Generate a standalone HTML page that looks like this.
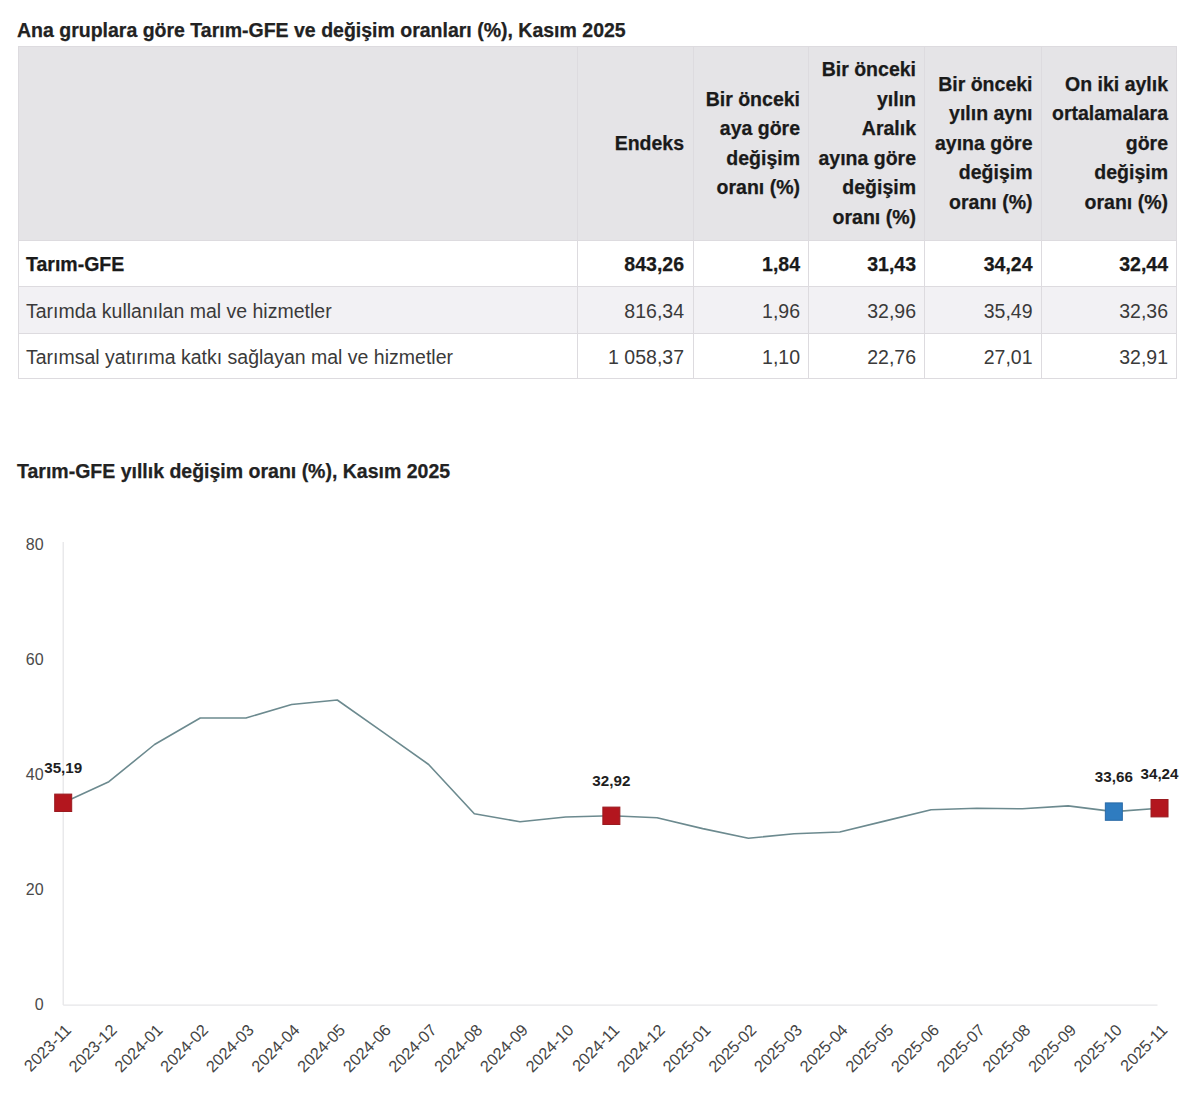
<!DOCTYPE html>
<html lang="tr"><head><meta charset="utf-8"><title>Tarım-GFE</title>
<style>
*{margin:0;padding:0;box-sizing:border-box}
html,body{width:1200px;height:1112px;background:#fff;overflow:hidden}
body{position:relative;font-family:"Liberation Sans",sans-serif;color:#222}
.t{position:absolute;white-space:nowrap;line-height:24px}
.b{font-weight:bold;-webkit-text-stroke:0.25px currentColor}
.r{text-align:right}
.box{position:absolute}
</style></head>
<body>
<div class="t b" style="top:18.04px;font-size:19.5px;color:#222;left:17.00px;">Ana gruplara göre Tarım-GFE ve değişim oranları (%), Kasım 2025</div>
<div class="box" style="left:18px;top:46px;width:1158.5px;height:194.5px;background:#e5e4e7;"></div>
<div class="box" style="left:18px;top:240.5px;width:1158.5px;height:46.0px;background:#fff;"></div>
<div class="box" style="left:18px;top:286.5px;width:1158.5px;height:46.5px;background:#f2f1f4;"></div>
<div class="box" style="left:18px;top:333px;width:1158.5px;height:45.5px;background:#fff;"></div>
<div class="box" style="left:18px;top:45.5px;width:1158.5px;height:1px;background:#dddbdf;"></div>
<div class="box" style="left:18px;top:240.0px;width:1158.5px;height:1px;background:#dddbdf;"></div>
<div class="box" style="left:18px;top:286.0px;width:1158.5px;height:1px;background:#dddbdf;"></div>
<div class="box" style="left:18px;top:332.5px;width:1158.5px;height:1px;background:#dddbdf;"></div>
<div class="box" style="left:18px;top:378.0px;width:1158.5px;height:1px;background:#dddbdf;"></div>
<div class="box" style="left:17.5px;top:46px;width:1px;height:332.5px;background:#dddbdf;"></div>
<div class="box" style="left:576.5px;top:46px;width:1px;height:332.5px;background:#dddbdf;"></div>
<div class="box" style="left:692.5px;top:46px;width:1px;height:332.5px;background:#dddbdf;"></div>
<div class="box" style="left:808.0px;top:46px;width:1px;height:332.5px;background:#dddbdf;"></div>
<div class="box" style="left:924.0px;top:46px;width:1px;height:332.5px;background:#dddbdf;"></div>
<div class="box" style="left:1041.0px;top:46px;width:1px;height:332.5px;background:#dddbdf;"></div>
<div class="box" style="left:1176.0px;top:46px;width:1px;height:332.5px;background:#dddbdf;"></div>
<div class="t b" style="top:130.79px;font-size:19.5px;color:#1a1a1a;right:516.00px;">Endeks</div>
<div class="t b" style="top:86.54px;font-size:19.5px;color:#1a1a1a;right:400.00px;">Bir önceki</div>
<div class="t b" style="top:116.04px;font-size:19.5px;color:#1a1a1a;right:400.00px;">aya göre</div>
<div class="t b" style="top:145.54px;font-size:19.5px;color:#1a1a1a;right:400.00px;">değişim</div>
<div class="t b" style="top:175.04px;font-size:19.5px;color:#1a1a1a;right:400.00px;">oranı (%)</div>
<div class="t b" style="top:57.04px;font-size:19.5px;color:#1a1a1a;right:284.00px;">Bir önceki</div>
<div class="t b" style="top:86.54px;font-size:19.5px;color:#1a1a1a;right:284.00px;">yılın</div>
<div class="t b" style="top:116.04px;font-size:19.5px;color:#1a1a1a;right:284.00px;">Aralık</div>
<div class="t b" style="top:145.54px;font-size:19.5px;color:#1a1a1a;right:284.00px;">ayına göre</div>
<div class="t b" style="top:175.04px;font-size:19.5px;color:#1a1a1a;right:284.00px;">değişim</div>
<div class="t b" style="top:204.54px;font-size:19.5px;color:#1a1a1a;right:284.00px;">oranı (%)</div>
<div class="t b" style="top:71.79px;font-size:19.5px;color:#1a1a1a;right:167.50px;">Bir önceki</div>
<div class="t b" style="top:101.29px;font-size:19.5px;color:#1a1a1a;right:167.50px;">yılın aynı</div>
<div class="t b" style="top:130.79px;font-size:19.5px;color:#1a1a1a;right:167.50px;">ayına göre</div>
<div class="t b" style="top:160.29px;font-size:19.5px;color:#1a1a1a;right:167.50px;">değişim</div>
<div class="t b" style="top:189.79px;font-size:19.5px;color:#1a1a1a;right:167.50px;">oranı (%)</div>
<div class="t b" style="top:71.79px;font-size:19.5px;color:#1a1a1a;right:32.00px;">On iki aylık</div>
<div class="t b" style="top:101.29px;font-size:19.5px;color:#1a1a1a;right:32.00px;">ortalamalara</div>
<div class="t b" style="top:130.79px;font-size:19.5px;color:#1a1a1a;right:32.00px;">göre</div>
<div class="t b" style="top:160.29px;font-size:19.5px;color:#1a1a1a;right:32.00px;">değişim</div>
<div class="t b" style="top:189.79px;font-size:19.5px;color:#1a1a1a;right:32.00px;">oranı (%)</div>
<div class="t b" style="top:252.24px;font-size:19.5px;color:#1a1a1a;left:26.00px;">Tarım-GFE</div>
<div class="t b" style="top:252.24px;font-size:19.5px;color:#1a1a1a;right:516.00px;">843,26</div>
<div class="t b" style="top:252.24px;font-size:19.5px;color:#1a1a1a;right:400.00px;">1,84</div>
<div class="t b" style="top:252.24px;font-size:19.5px;color:#1a1a1a;right:284.00px;">31,43</div>
<div class="t b" style="top:252.24px;font-size:19.5px;color:#1a1a1a;right:167.50px;">34,24</div>
<div class="t b" style="top:252.24px;font-size:19.5px;color:#1a1a1a;right:32.00px;">32,44</div>
<div class="t" style="top:298.54px;font-size:19.5px;color:#3a3a3a;left:26.00px;">Tarımda kullanılan mal ve hizmetler</div>
<div class="t" style="top:298.54px;font-size:19.5px;color:#3a3a3a;right:516.00px;">816,34</div>
<div class="t" style="top:298.54px;font-size:19.5px;color:#3a3a3a;right:400.00px;">1,96</div>
<div class="t" style="top:298.54px;font-size:19.5px;color:#3a3a3a;right:284.00px;">32,96</div>
<div class="t" style="top:298.54px;font-size:19.5px;color:#3a3a3a;right:167.50px;">35,49</div>
<div class="t" style="top:298.54px;font-size:19.5px;color:#3a3a3a;right:32.00px;">32,36</div>
<div class="t" style="top:344.54px;font-size:19.5px;color:#3a3a3a;left:26.00px;">Tarımsal yatırıma katkı sağlayan mal ve hizmetler</div>
<div class="t" style="top:344.54px;font-size:19.5px;color:#3a3a3a;right:516.00px;">1 058,37</div>
<div class="t" style="top:344.54px;font-size:19.5px;color:#3a3a3a;right:400.00px;">1,10</div>
<div class="t" style="top:344.54px;font-size:19.5px;color:#3a3a3a;right:284.00px;">22,76</div>
<div class="t" style="top:344.54px;font-size:19.5px;color:#3a3a3a;right:167.50px;">27,01</div>
<div class="t" style="top:344.54px;font-size:19.5px;color:#3a3a3a;right:32.00px;">32,91</div>
<div class="t b" style="top:459.04px;font-size:19.5px;color:#222;left:17.00px;">Tarım-GFE yıllık değişim oranı (%), Kasım 2025</div>
<svg width="1200" height="1112" style="position:absolute;left:0;top:0">
<line x1="63.2" y1="542" x2="63.2" y2="1005.1" stroke="#e6e6e8" stroke-width="1.3"/>
<line x1="63.2" y1="1005.1" x2="1157.5" y2="1005.1" stroke="#e6e6e8" stroke-width="1.3"/>
<text x="43.6" y="1009.70" text-anchor="end" font-family="Liberation Sans" font-size="16" fill="#4a4a4a">0</text>
<text x="43.6" y="894.70" text-anchor="end" font-family="Liberation Sans" font-size="16" fill="#4a4a4a">20</text>
<text x="43.6" y="779.70" text-anchor="end" font-family="Liberation Sans" font-size="16" fill="#4a4a4a">40</text>
<text x="43.6" y="664.70" text-anchor="end" font-family="Liberation Sans" font-size="16" fill="#4a4a4a">60</text>
<text x="43.6" y="549.70" text-anchor="end" font-family="Liberation Sans" font-size="16" fill="#4a4a4a">80</text>
<polyline points="63.20,802.80 108.88,781.70 154.56,744.50 200.24,718.00 245.92,718.00 291.60,704.50 337.28,700.00 382.96,732.10 428.64,764.50 474.32,813.80 520.00,821.70 565.68,817.00 611.36,815.80 657.04,817.80 702.72,828.60 748.40,838.20 794.08,833.80 839.76,832.00 885.44,820.90 931.12,809.80 976.80,808.30 1022.48,808.80 1068.16,805.90 1113.84,811.60 1159.52,808.20" fill="none" stroke="#6c8a8f" stroke-width="1.6" stroke-linejoin="round"/>
<rect x="54.70" y="794.10" width="17" height="17.4" fill="#b3161e" stroke="#9a1b20" stroke-width="1"/>
<rect x="602.86" y="807.10" width="17" height="17.4" fill="#b3161e" stroke="#9a1b20" stroke-width="1"/>
<rect x="1105.34" y="802.90" width="17" height="17.4" fill="#2f7cc0" stroke="#2a6aa6" stroke-width="1"/>
<rect x="1151.02" y="799.50" width="17" height="17.4" fill="#b3161e" stroke="#9a1b20" stroke-width="1"/>
<text x="63.20" y="773.30" text-anchor="middle" font-family="Liberation Sans" font-weight="bold" font-size="15.2" fill="#1e1e1e">35,19</text>
<text x="611.36" y="786.30" text-anchor="middle" font-family="Liberation Sans" font-weight="bold" font-size="15.2" fill="#1e1e1e">32,92</text>
<text x="1113.84" y="782.10" text-anchor="middle" font-family="Liberation Sans" font-weight="bold" font-size="15.2" fill="#1e1e1e">33,66</text>
<text x="1159.52" y="778.70" text-anchor="middle" font-family="Liberation Sans" font-weight="bold" font-size="15.2" fill="#1e1e1e">34,24</text>
<text x="72.20" y="1031.00" text-anchor="end" font-family="Liberation Sans" font-size="16.3" fill="#444" transform="rotate(-45 72.20 1031.00)">2023-11</text>
<text x="117.88" y="1031.00" text-anchor="end" font-family="Liberation Sans" font-size="16.3" fill="#444" transform="rotate(-45 117.88 1031.00)">2023-12</text>
<text x="163.56" y="1031.00" text-anchor="end" font-family="Liberation Sans" font-size="16.3" fill="#444" transform="rotate(-45 163.56 1031.00)">2024-01</text>
<text x="209.24" y="1031.00" text-anchor="end" font-family="Liberation Sans" font-size="16.3" fill="#444" transform="rotate(-45 209.24 1031.00)">2024-02</text>
<text x="254.92" y="1031.00" text-anchor="end" font-family="Liberation Sans" font-size="16.3" fill="#444" transform="rotate(-45 254.92 1031.00)">2024-03</text>
<text x="300.60" y="1031.00" text-anchor="end" font-family="Liberation Sans" font-size="16.3" fill="#444" transform="rotate(-45 300.60 1031.00)">2024-04</text>
<text x="346.28" y="1031.00" text-anchor="end" font-family="Liberation Sans" font-size="16.3" fill="#444" transform="rotate(-45 346.28 1031.00)">2024-05</text>
<text x="391.96" y="1031.00" text-anchor="end" font-family="Liberation Sans" font-size="16.3" fill="#444" transform="rotate(-45 391.96 1031.00)">2024-06</text>
<text x="437.64" y="1031.00" text-anchor="end" font-family="Liberation Sans" font-size="16.3" fill="#444" transform="rotate(-45 437.64 1031.00)">2024-07</text>
<text x="483.32" y="1031.00" text-anchor="end" font-family="Liberation Sans" font-size="16.3" fill="#444" transform="rotate(-45 483.32 1031.00)">2024-08</text>
<text x="529.00" y="1031.00" text-anchor="end" font-family="Liberation Sans" font-size="16.3" fill="#444" transform="rotate(-45 529.00 1031.00)">2024-09</text>
<text x="574.68" y="1031.00" text-anchor="end" font-family="Liberation Sans" font-size="16.3" fill="#444" transform="rotate(-45 574.68 1031.00)">2024-10</text>
<text x="620.36" y="1031.00" text-anchor="end" font-family="Liberation Sans" font-size="16.3" fill="#444" transform="rotate(-45 620.36 1031.00)">2024-11</text>
<text x="666.04" y="1031.00" text-anchor="end" font-family="Liberation Sans" font-size="16.3" fill="#444" transform="rotate(-45 666.04 1031.00)">2024-12</text>
<text x="711.72" y="1031.00" text-anchor="end" font-family="Liberation Sans" font-size="16.3" fill="#444" transform="rotate(-45 711.72 1031.00)">2025-01</text>
<text x="757.40" y="1031.00" text-anchor="end" font-family="Liberation Sans" font-size="16.3" fill="#444" transform="rotate(-45 757.40 1031.00)">2025-02</text>
<text x="803.08" y="1031.00" text-anchor="end" font-family="Liberation Sans" font-size="16.3" fill="#444" transform="rotate(-45 803.08 1031.00)">2025-03</text>
<text x="848.76" y="1031.00" text-anchor="end" font-family="Liberation Sans" font-size="16.3" fill="#444" transform="rotate(-45 848.76 1031.00)">2025-04</text>
<text x="894.44" y="1031.00" text-anchor="end" font-family="Liberation Sans" font-size="16.3" fill="#444" transform="rotate(-45 894.44 1031.00)">2025-05</text>
<text x="940.12" y="1031.00" text-anchor="end" font-family="Liberation Sans" font-size="16.3" fill="#444" transform="rotate(-45 940.12 1031.00)">2025-06</text>
<text x="985.80" y="1031.00" text-anchor="end" font-family="Liberation Sans" font-size="16.3" fill="#444" transform="rotate(-45 985.80 1031.00)">2025-07</text>
<text x="1031.48" y="1031.00" text-anchor="end" font-family="Liberation Sans" font-size="16.3" fill="#444" transform="rotate(-45 1031.48 1031.00)">2025-08</text>
<text x="1077.16" y="1031.00" text-anchor="end" font-family="Liberation Sans" font-size="16.3" fill="#444" transform="rotate(-45 1077.16 1031.00)">2025-09</text>
<text x="1122.84" y="1031.00" text-anchor="end" font-family="Liberation Sans" font-size="16.3" fill="#444" transform="rotate(-45 1122.84 1031.00)">2025-10</text>
<text x="1168.52" y="1031.00" text-anchor="end" font-family="Liberation Sans" font-size="16.3" fill="#444" transform="rotate(-45 1168.52 1031.00)">2025-11</text>
</svg>
</body></html>
